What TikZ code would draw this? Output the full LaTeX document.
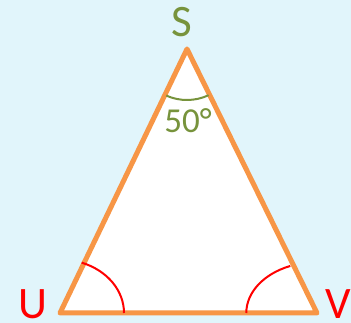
\documentclass[tikz,border=0pt]{standalone}
\usepackage{fontspec}
\setmainfont{Carlito}
\usepackage{tikz}
\usetikzlibrary{positioning}
\definecolor{skyback}{HTML}{E1F5FB}
\definecolor{edgeorange}{HTML}{F79646}
\definecolor{apexgreen}{HTML}{77933C}
\tikzset{
  triedge/.style={draw=edgeorange, line width=5pt, line join=round, fill=white},
  vertlabel/.style={font=\fontsize{45}{54}\selectfont, inner sep=0pt},
  anglelabel/.style={font=\fontsize{35}{42}\selectfont, inner sep=0pt, text=apexgreen},
  anglearc/.style={line width=2pt}
}
\begin{document}
\begin{tikzpicture}[x=1pt, y=1pt]
  \fill[skyback] (0,0) rectangle (351,323);
  \useasboundingbox (0,0) rectangle (351,323);
  \coordinate (s) at (187,274);
  \coordinate (u) at (60,10);
  \coordinate (v) at (317,10);
  \draw[triedge] (s) -- (u) -- (v) -- cycle;
  % angle marks
  \draw[anglearc, apexgreen] (s) ++(-114:51pt) arc[start angle=-114, end angle=-65, radius=51pt];
  \draw[anglearc, red] (u) ++(64pt,0) arc[start angle=0, end angle=70.2, x radius=64pt, y radius=53.5pt];
  \draw[anglearc, red] (v) ++(-70.7pt,0) arc[start angle=180, end angle=112.2, x radius=70.7pt, y radius=50.8pt];
  % labels
  \node[vertlabel, text=apexgreen] (labS) at (181.7,300.5) {S};
  \node[vertlabel, text=red] (labU) at (32.5,19) {U};
  \node[vertlabel, text=red] (labV) at (338,18.5) {V};
  \node[anglelabel] (ang) at (188,202) {50°};
\end{tikzpicture}
\end{document}
